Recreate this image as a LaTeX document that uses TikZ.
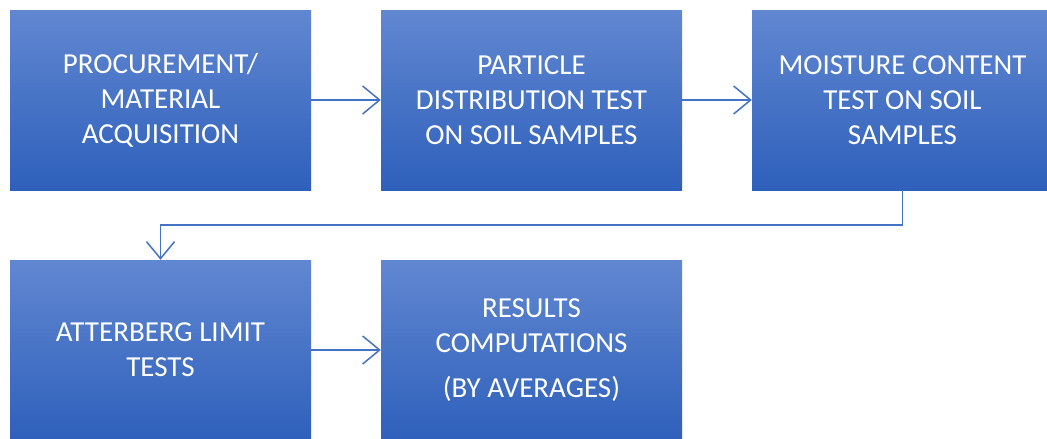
\documentclass[tikz,border=0pt]{standalone}
\usepackage{fontspec}
\setmainfont{Carlito}
\usetikzlibrary{arrows.meta}
\definecolor{boxtop}{RGB}{97,135,209}
\definecolor{boxbot}{RGB}{46,96,187}
\definecolor{arrblue}{RGB}{68,114,196}

\begin{document}
\begin{tikzpicture}
[
x = 1pt, y = -1pt,
>={Straight Barb[length=17pt,width=28pt]},
box/.style = {top color = boxtop, bottom color = boxbot, text = white,
  minimum width = 301pt, minimum height = 180pt, inner sep = 0pt,
  align = center, font = \fontsize{29}{35}\selectfont},
arr/.style = {->, draw = arrblue, line width = 1.5pt},
]

\useasboundingbox (0,0) rectangle (1047,439);
\clip (0,0) rectangle (1047,439);

\node (P) at (160.5, 100) [box] {PROCUREMENT/\\MATERIAL\\ACQUISITION};

\node (PD) at (531.5, 100) [box] {PARTICLE\\DISTRIBUTION TEST\\ON SOIL SAMPLES};

\node (MC) at (902.5, 100) [box] {MOISTURE CONTENT\\TEST ON SOIL\\SAMPLES};

\node (AL) at (160.5, 350) [box] {ATTERBERG LIMIT\\TESTS};

\node (RC) at (531.5, 350) [box] {RESULTS\\COMPUTATIONS\\[10pt](BY AVERAGES)};

\draw[arr] (P) -- (PD);
\draw[arr] (PD) -- (MC);
\draw[arr] (MC.south) -- ++(0,35) -| (AL.north);
\draw[arr] (AL) -- (RC);
\end{tikzpicture}
\end{document}
